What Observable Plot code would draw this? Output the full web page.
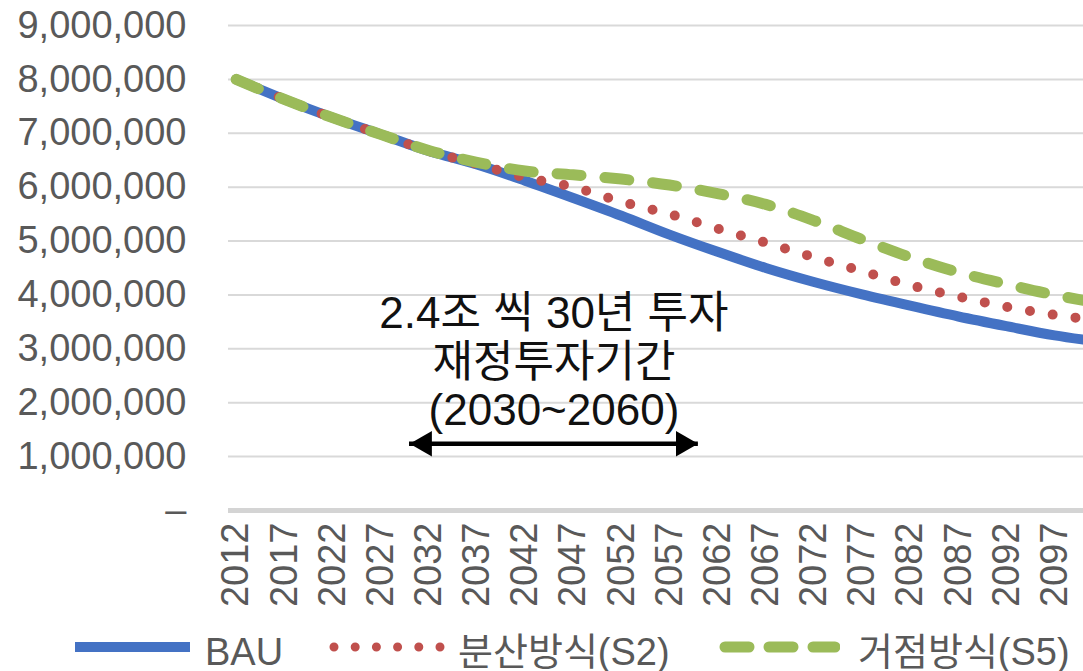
<!DOCTYPE html>
<html><head><meta charset="utf-8">
<script src="https://cdn.jsdelivr.net/npm/d3@7"></script>
<script src="https://cdn.jsdelivr.net/npm/@observablehq/plot@0.6"></script>
<style>
body{margin:0;background:#fff;font-family:"Liberation Sans","Noto Sans CJK KR",sans-serif;}
#chart svg{display:block;}
#legend{position:relative;width:1083px;height:51px;color:#595959;font-size:38px;}
#legend .sw{position:absolute;top:16px;}
#legend .lb{position:absolute;top:10px;line-height:44px;white-space:nowrap;}
</style></head>
<body>
<div id="chart"></div>
<div id="legend"></div>
<script>
// ---- data ----
const years = [2012, 2017, 2022, 2027, 2032, 2037, 2042, 2047, 2052, 2057, 2062, 2067, 2072, 2077, 2082, 2087, 2092, 2097, 2100];
const bau   = [8.00e6, 7.63e6, 7.29e6, 6.98e6, 6.67e6, 6.42e6, 6.12e6, 5.80e6, 5.47e6, 5.12e6, 4.80e6, 4.50e6, 4.24e6, 4.01e6, 3.80e6, 3.60e6, 3.42e6, 3.25e6, 3.17e6];
const s2    = [8.00e6, 7.63e6, 7.29e6, 6.98e6, 6.67e6, 6.43e6, 6.18e6, 6.00e6, 5.73e6, 5.50e6, 5.23e6, 4.97e6, 4.70e6, 4.44e6, 4.18e6, 3.97e6, 3.78e6, 3.63e6, 3.56e6];
const s5    = [8.00e6, 7.63e6, 7.29e6, 6.98e6, 6.68e6, 6.46e6, 6.30e6, 6.23e6, 6.15e6, 6.04e6, 5.88e6, 5.68e6, 5.38e6, 5.03e6, 4.70e6, 4.42e6, 4.20e6, 4.00e6, 3.90e6];
const seriesNames = ["BAU", "분산방식(S2)", "거점방식(S5)"];
const xTickYears = [2012, 2017, 2022, 2027, 2032, 2037, 2042, 2047, 2052, 2057, 2062, 2067, 2072, 2077, 2082, 2087, 2092, 2097];
const yTicks = [0, 1000000, 2000000, 3000000, 4000000, 5000000, 6000000, 7000000, 8000000, 9000000];
const annotationLines = ["2.4조 씩 30년 투자", "재정투자기간", "(2030~2060)"];
const investPeriod = [2030, 2060];

// ---- build table ----
const seriesValues = [bau, s2, s5];
const rows = seriesNames.map((name, k) => years.map((yr, i) => ({series: name, year: yr, value: seriesValues[k][i]})));
const colors = ["#4472c4", "#c0504d", "#9bbb59"];

const W = 1083, H = 620;
const fmt = d3.format(",");
const arrowY = 1240000;
const mid = d3.mean(investPeriod);
const FONT = '"Liberation Sans","Noto Sans CJK KR",sans-serif';

const chart = Plot.plot({
  width: W, height: H,
  marginLeft: 228, marginRight: 0, marginTop: 25, marginBottom: H - 510,
  x: {domain: [2011.2, 2100], axis: null, label: null},
  y: {domain: [0, 9000000], axis: null, label: null},
  style: {fontFamily: FONT, background: "white", overflow: "visible"},
  marks: [
    Plot.gridY(yTicks.filter(d => d > 0), {stroke: "#d9d9d9", strokeOpacity: 1, strokeWidth: 2}),
    Plot.ruleY([0], {stroke: "#d4d4d4", strokeWidth: 5}),
    Plot.axisY({ticks: yTicks, tickSize: 0, tickPadding: 42, fontSize: 38, color: "#595959", label: null,
      tickFormat: d => d === 0 ? "–" : fmt(d)}),
    Plot.axisX({ticks: xTickYears, tickSize: 0, tickRotate: -90, tickPadding: 12, fontSize: 38, color: "#595959", label: null,
      tickFormat: d => String(d)}),
    Plot.line(rows[0], {x: "year", y: "value", stroke: colors[0], strokeWidth: 10, curve: "monotone-x"}),
    Plot.line(rows[1], {x: "year", y: "value", stroke: colors[1], strokeWidth: 10, curve: "monotone-x",
      strokeDasharray: "0 23", strokeLinecap: "round"}),
    Plot.line(rows[2], {x: "year", y: "value", stroke: colors[2], strokeWidth: 11, curve: "monotone-x",
      strokeDasharray: "24 24", strokeLinecap: "round"}),
    Plot.text([annotationLines.join("\n")], {x: () => mid, y: () => 2770000, text: d => d,
      fontSize: 44, lineHeight: 1.1, fill: "#111", fontFamily: FONT}),
    Plot.ruleY([arrowY], {x1: investPeriod[0], x2: investPeriod[1], stroke: "black", strokeWidth: 4.5}),
    Plot.dot([investPeriod[0]], {x: d => d, y: () => arrowY, symbol: "triangle", r: 9.5, fill: "black", stroke: "none", rotate: -90, dx: 15}),
    Plot.dot([investPeriod[1]], {x: d => d, y: () => arrowY, symbol: "triangle", r: 9.5, fill: "black", stroke: "none", rotate: 90, dx: -15})
  ]
});
document.getElementById("chart").appendChild(chart);

// ---- legend ----
const lg = d3.select("#legend");
const items = [
  {sw: 75, lb: 205},
  {sw: 330, lb: 458},
  {sw: 720, lb: 858}
];
seriesNames.forEach((name, k) => {
  const s = lg.append("svg").attr("class", "sw").attr("width", 125).attr("height", 22)
    .style("left", (items[k].sw - 5) + "px");
  const p = s.append("line").attr("x1", 5).attr("x2", 120).attr("y1", 11).attr("y2", 11)
    .attr("stroke", colors[k]);
  if (k === 0) p.attr("stroke-width", 10);
  if (k === 1) p.attr("x1", 9).attr("x2", 117).attr("stroke-width", 9).attr("stroke-linecap", "round").attr("stroke-dasharray", "0 21.2");
  if (k === 2) p.attr("x1", 10).attr("x2", 120).attr("stroke-width", 11).attr("stroke-linecap", "round").attr("stroke-dasharray", "24 20");
  lg.append("div").attr("class", "lb").style("left", items[k].lb + "px").text(name);
});
</script>
</body></html>
